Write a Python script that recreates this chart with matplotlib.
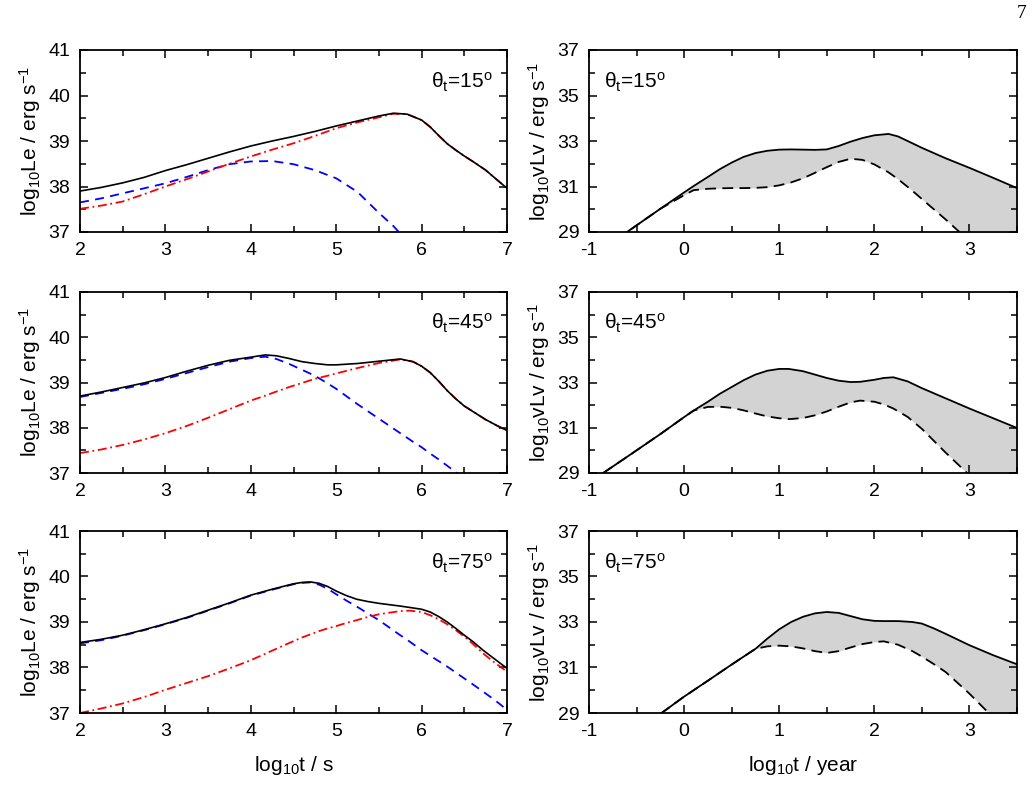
import matplotlib
matplotlib.use("Agg")
import matplotlib.pyplot as plt
from matplotlib.ticker import MultipleLocator

plt.rcParams['font.family'] = ['Liberation Sans', 'DejaVu Sans']
plt.rcParams['mathtext.fontset'] = 'custom'
plt.rcParams['mathtext.rm'] = 'Liberation Sans'
plt.rcParams['mathtext.it'] = 'Liberation Sans:italic'
plt.rcParams['axes.unicode_minus'] = False

angles = ["15", "45", "75"]

# ---- left column: log10 Le vs log10 t [s] ----
t15 = [2, 2.25, 2.5, 2.75, 3, 3.25, 3.5, 3.75, 4, 4.25, 4.5, 4.75, 5, 5.25, 5.5, 5.67, 5.83,
       6, 6.1, 6.2, 6.3, 6.4, 6.5, 6.6, 6.75, 6.9, 7]
tot15 = [37.90, 37.98, 38.08, 38.20, 38.35, 38.48, 38.62, 38.76, 38.89, 39.00, 39.10, 39.21,
         39.33, 39.44, 39.55, 39.61, 39.59, 39.46, 39.31, 39.12, 38.94, 38.80, 38.67, 38.55,
         38.36, 38.12, 37.96]
red15 = [37.51, 37.58, 37.67, 37.83, 38.00, 38.16, 38.33, 38.50, 38.66, 38.81, 38.95, 39.11,
         39.28, 39.41, 39.52, 39.60, 39.59, 39.46, 39.31, 39.12, 38.94, 38.80, 38.67, 38.55,
         38.36, 38.12, 37.96]
blue15 = [37.65, 37.74, 37.85, 37.96, 38.07, 38.21, 38.36, 38.49, 38.55, 38.56, 38.49, 38.36,
          38.18, 37.88, 37.42, 37.13, 36.80, 36.40, 36.20, 36.00, 35.80, 35.60, 35.40, 35.20,
          34.90, 34.60, 34.40]

t45 = [2, 2.25, 2.5, 2.75, 3, 3.25, 3.5, 3.75, 4, 4.17, 4.3, 4.45, 4.6, 4.75, 4.9, 5, 5.25,
       5.5, 5.75, 5.9, 6, 6.1, 6.2, 6.3, 6.4, 6.5, 6.6, 6.75, 6.9, 7]
tot45 = [38.70, 38.79, 38.89, 38.99, 39.11, 39.25, 39.38, 39.49, 39.56, 39.61, 39.59, 39.53,
         39.46, 39.42, 39.39, 39.39, 39.42, 39.47, 39.52, 39.46, 39.36, 39.22, 39.03, 38.82,
         38.64, 38.48, 38.36, 38.18, 38.03, 37.94]
red45 = [37.44, 37.52, 37.62, 37.74, 37.88, 38.04, 38.22, 38.41, 38.60, 38.71, 38.80, 38.90,
         38.99, 39.08, 39.15, 39.20, 39.32, 39.43, 39.51, 39.46, 39.36, 39.22, 39.03, 38.82,
         38.64, 38.48, 38.36, 38.18, 38.03, 37.94]
blue45 = [38.68, 38.77, 38.86, 38.96, 39.08, 39.21, 39.34, 39.46, 39.54, 39.57, 39.52, 39.41,
          39.28, 39.15, 38.98, 38.86, 38.52, 38.20, 37.88, 37.69, 37.57, 37.43, 37.30, 37.16,
          37.02, 36.88, 36.75, 36.55, 36.35, 36.25]

t75 = [2, 2.25, 2.5, 2.75, 3, 3.25, 3.5, 3.75, 4, 4.25, 4.5, 4.6, 4.7, 4.8, 4.9, 5, 5.12,
       5.24, 5.37, 5.5, 5.75, 5.86, 6, 6.1, 6.2, 6.3, 6.4, 6.5, 6.6, 6.72, 6.86, 7]
tot75 = [38.55, 38.62, 38.71, 38.83, 38.96, 39.10, 39.26, 39.42, 39.59, 39.72, 39.84, 39.87,
         39.88, 39.85, 39.78, 39.68, 39.58, 39.50, 39.45, 39.41, 39.35, 39.32, 39.28, 39.22,
         39.12, 39.00, 38.86, 38.71, 38.57, 38.38, 38.18, 37.98]
red75 = [37.00, 37.10, 37.21, 37.35, 37.51, 37.66, 37.81, 37.98, 38.16, 38.37, 38.58, 38.66,
         38.73, 38.80, 38.86, 38.91, 38.98, 39.04, 39.11, 39.17, 39.24, 39.25, 39.22, 39.15,
         39.06, 38.95, 38.82, 38.68, 38.52, 38.31, 38.10, 37.91]
blue75 = [38.53, 38.60, 38.70, 38.82, 38.95, 39.09, 39.25, 39.41, 39.58, 39.71, 39.83, 39.86,
          39.87, 39.82, 39.73, 39.61, 39.47, 39.34, 39.19, 39.04, 38.71, 38.57, 38.38, 38.26,
          38.14, 38.02, 37.89, 37.76, 37.63, 37.47, 37.28, 37.07]

# ---- right column: log10 vLv vs log10 t [year] ----
y15 = [-1, -0.6, -0.25, 0, 0.1, 0.25, 0.375, 0.5, 0.625, 0.75, 0.875, 1, 1.125, 1.25, 1.375,
       1.5, 1.625, 1.75, 1.875, 2, 2.15, 2.25, 2.375, 2.5, 2.75, 3, 3.25, 3.5]
up15 = [27.8, 29.0, 30.02, 30.74, 31.02, 31.42, 31.76, 32.05, 32.30, 32.47, 32.57, 32.62,
        32.63, 32.62, 32.61, 32.63, 32.78, 32.97, 33.13, 33.25, 33.31, 33.20, 32.95, 32.70,
        32.24, 31.82, 31.38, 30.93]
lo15 = [27.8, 29.0, 30.02, 30.62, 30.84, 30.90, 30.92, 30.93, 30.93, 30.94, 30.97, 31.05,
        31.18, 31.36, 31.60, 31.85, 32.08, 32.22, 32.17, 31.97, 31.62, 31.32, 30.90, 30.45,
        29.55, 28.60, 27.70, 26.80]

y45 = [-1, -0.85, -0.5, -0.25, 0, 0.1, 0.25, 0.375, 0.5, 0.625, 0.75, 0.875, 1, 1.1, 1.25,
       1.375, 1.5, 1.625, 1.75, 1.85, 2, 2.1, 2.2, 2.35, 2.5, 2.75, 3, 3.25, 3.5]
up45 = [28.57, 29.0, 30.0, 30.72, 31.47, 31.76, 32.15, 32.50, 32.80, 33.10, 33.35, 33.52,
        33.60, 33.60, 33.50, 33.35, 33.20, 33.08, 33.02, 33.03, 33.12, 33.20, 33.23, 33.05,
        32.75, 32.30, 31.85, 31.42, 30.99]
lo45 = [28.57, 29.0, 30.0, 30.72, 31.47, 31.76, 31.92, 31.93, 31.88, 31.77, 31.63, 31.50,
        31.42, 31.38, 31.43, 31.55, 31.72, 31.93, 32.12, 32.20, 32.15, 32.03, 31.85, 31.48,
        30.95, 29.90, 28.90, 28.00, 27.10]

y75 = [-1, -0.5, -0.25, 0, 0.25, 0.5, 0.75, 0.875, 1, 1.125, 1.25, 1.375, 1.5, 1.625, 1.75,
       1.875, 2, 2.1, 2.25, 2.4, 2.5, 2.625, 2.75, 3, 3.25, 3.5]
up75 = [26.9, 28.3, 28.96, 29.72, 30.42, 31.13, 31.82, 32.27, 32.68, 33.00, 33.23, 33.38,
        33.44, 33.40, 33.26, 33.12, 33.05, 33.04, 33.04, 33.00, 32.93, 32.72, 32.48, 31.98,
        31.54, 31.14]
lo75 = [26.9, 28.3, 28.96, 29.72, 30.42, 31.13, 31.82, 31.93, 31.96, 31.93, 31.84, 31.72,
        31.64, 31.72, 31.88, 32.03, 32.12, 32.15, 32.00, 31.72, 31.48, 31.15, 30.80, 29.85,
        28.80, 27.80]

left_data = [(t15, tot15, blue15, red15), (t45, tot45, blue45, red45), (t75, tot75, blue75, red75)]
right_data = [(y15, up15, lo15), (y45, up45, lo45), (y75, up75, lo75)]

fig = plt.figure(figsize=(10.34, 7.97), dpi=100)

W, H = 1034.0, 797.0
rows = [(50, 232), (292, 473), (531, 713)]


def style(ax):
    ax.tick_params(which='both', direction='in', top=True, right=True, labelsize=14,
                   width=1.1, pad=7)
    ax.tick_params(which='major', length=6)
    ax.tick_params(which='minor', length=4)
    for s in ax.spines.values():
        s.set_linewidth(1.3)


for i, (top, bot) in enumerate(rows):
    b = 1 - bot / H
    h = (bot - top) / H
    label = 'θ$_{\\mathrm{t}}$=' + angles[i] + '$^{\\mathrm{o}}$'

    # left panel
    ax = fig.add_axes([80 / W, b, 427 / W, h])
    t, tot, blue, red = left_data[i]
    ax.plot(t, blue, color='blue', lw=1.3, dashes=(5, 3.5))
    ax.plot(t, red, color='red', lw=1.3, dashes=(5, 2, 1, 2))
    ax.plot(t, tot, color='black', lw=1.2)
    ax.set_xlim(2, 7)
    ax.set_ylim(37, 41)
    ax.xaxis.set_major_locator(MultipleLocator(1))
    ax.xaxis.set_minor_locator(MultipleLocator(0.5))
    ax.yaxis.set_major_locator(MultipleLocator(1))
    ax.yaxis.set_minor_locator(MultipleLocator(0.5))
    style(ax)
    ax.set_ylabel(r'log$_{10}$Le / erg s$^{-1}$', fontsize=15, labelpad=4)
    ax.text(0.965, 0.76, label, transform=ax.transAxes, ha='right', va='bottom', fontsize=15)
    if i == 2:
        ax.set_xlabel(r'log$_{10}$t / s', fontsize=15, labelpad=10)

    # right panel
    ax = fig.add_axes([589 / W, b, 428 / W, h])
    x, up, lo = right_data[i]
    ax.fill_between(x, lo, up, color='#d3d3d3', lw=0)
    ax.plot(x, lo, color='black', lw=1.3, dashes=(6, 3.5))
    ax.plot(x, up, color='black', lw=1.3)
    ax.set_xlim(-1, 3.5)
    ax.set_ylim(29, 37)
    ax.xaxis.set_major_locator(MultipleLocator(1))
    ax.xaxis.set_minor_locator(MultipleLocator(0.5))
    ax.set_yticks([29, 31, 33, 35, 37])
    ax.set_yticks([30, 32, 34, 36], minor=True)
    style(ax)
    ax.set_ylabel(r'log$_{10}$vLv / erg s$^{-1}$', fontsize=15, labelpad=4)
    ax.text(0.035, 0.76, label, transform=ax.transAxes, ha='left', va='bottom', fontsize=15)
    if i == 2:
        ax.set_xlabel(r'log$_{10}$t / year', fontsize=15, labelpad=10)

fig.text(1022 / W, 1 - 14 / H, '7', family='Liberation Serif', fontsize=14, ha='center', va='center')

fig.savefig('out.png', dpi=100)
